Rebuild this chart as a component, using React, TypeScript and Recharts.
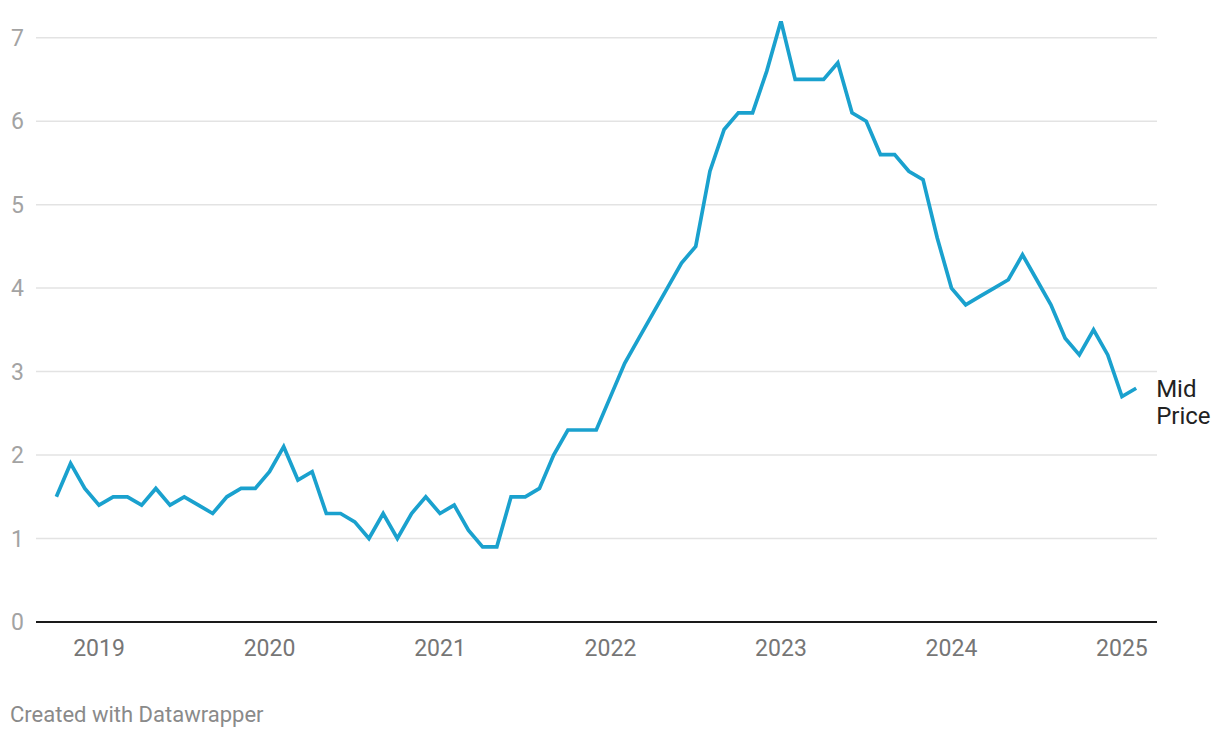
import React from 'react'
import { LineChart, Line, XAxis, YAxis, ReferenceLine, LabelList } from 'recharts'

// Monthly mid price, Oct 2018 .. Feb 2025
const firstYear = 2018
const firstMonth = 10
const midPrice = [
    1.5, 1.9, 1.6,
    1.4, 1.5, 1.5, 1.4, 1.6, 1.4, 1.5, 1.4, 1.3, 1.5, 1.6, 1.6,
    1.8, 2.1, 1.7, 1.8, 1.3, 1.3, 1.2, 1.0, 1.3, 1.0, 1.3, 1.5,
    1.3, 1.4, 1.1, 0.9, 0.9, 1.5, 1.5, 1.6, 2.0, 2.3, 2.3, 2.3,
    2.7, 3.1, 3.4, 3.7, 4.0, 4.3, 4.5, 5.4, 5.9, 6.1, 6.1, 6.6,
    7.2, 6.5, 6.5, 6.5, 6.7, 6.1, 6.0, 5.6, 5.6, 5.4, 5.3, 4.6,
    4.0, 3.8, 3.9, 4.0, 4.1, 4.4, 4.1, 3.8, 3.4, 3.2, 3.5, 3.2,
    2.7, 2.8,
]
const yearTicks = [2019, 2020, 2021, 2022, 2023, 2024, 2025]
const valueTicks = [0, 1, 2, 3, 4, 5, 6, 7]
const seriesName = ['Mid', 'Price']

const data = midPrice.map((v, i) => {
    const m = firstMonth - 1 + i
    return { t: firstYear + m / 12, value: v }
})

const FONT = 'Roboto, "Noto Sans", sans-serif'

const YTick = (props: any) => {
    const { y, payload } = props
    return (
        <text x={11} y={y} dy="0.355em" textAnchor="start" fill="#a3a3a3" fontSize={23} fontFamily={FONT}>
            {payload.value}
        </text>
    )
}

const XTick = (props: any) => {
    const { x, y, payload } = props
    return (
        <text x={x} y={y} dy="0.71em" textAnchor="middle" fill="#767676" fontSize={23} fontFamily={FONT}>
            {payload.value}
        </text>
    )
}

// series name at the end of the line
const EndLabel = (props: any) => {
    const { x, y, index } = props
    if (index !== data.length - 1) return null
    return (
        <text x={x + 20} y={y + 9} fill="#222" fontSize={24} fontFamily={FONT}>
            <tspan x={x + 20}>{seriesName[0]}</tspan>
            <tspan x={x + 20} dy={27}>{seriesName[1]}</tspan>
        </text>
    )
}

export default function App() {
    return (
        <div style={{ position: 'absolute', left: 0, top: 0, width: 1220, height: 738, background: '#fff', fontFamily: FONT }}>
            <LineChart width={1220} height={738} data={data} margin={{ top: 21, right: 63, bottom: 76, left: 0 }}>
                {valueTicks.slice(1).map((v) => (
                    <ReferenceLine key={v} y={v} stroke="#e3e3e3" strokeWidth={1.5} />
                ))}
                <XAxis
                    type="number"
                    dataKey="t"
                    domain={[2018.6305, 2025.2055]}
                    ticks={yearTicks}
                    height={40}
                    tickSize={0}
                    tickMargin={18}
                    tick={<XTick />}
                    axisLine={{ stroke: '#1a1a1a', strokeWidth: 2 }}
                    tickLine={false}
                    allowDataOverflow
                />
                <YAxis
                    type="number"
                    domain={[0, 7.2]}
                    ticks={valueTicks}
                    width={36}
                    tickSize={0}
                    tick={<YTick />}
                    axisLine={false}
                    tickLine={false}
                    allowDataOverflow
                />
                <Line
                    type="linear"
                    dataKey="value"
                    stroke="#1aa1ce"
                    strokeWidth={3.7}
                    dot={false}
                    activeDot={false}
                    isAnimationActive={false}
                    strokeLinejoin="miter"
                >
                    <LabelList dataKey="value" content={<EndLabel />} />
                </Line>
            </LineChart>
            <div style={{ position: 'absolute', left: 10, top: 704, fontSize: 22, lineHeight: '22px', color: '#8a8a8a', fontFamily: FONT }}>
                Created with Datawrapper
            </div>
        </div>
    )
}
